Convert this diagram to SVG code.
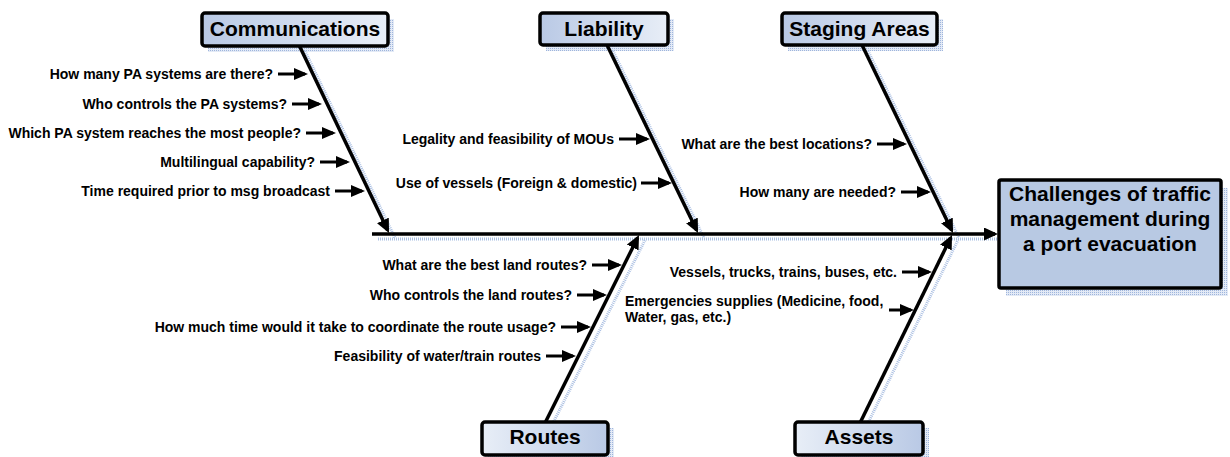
<svg xmlns="http://www.w3.org/2000/svg" width="1230" height="457" viewBox="0 0 1230 457">
<style>
.t{font-family:"Liberation Sans",Arial,sans-serif;font-weight:bold;font-size:14px;fill:#000}
.h{font-family:"Liberation Sans",Arial,sans-serif;font-weight:bold;font-size:21px;fill:#000;text-anchor:middle}
.e{text-anchor:end}
.bone{stroke:#000;stroke-width:3.5;fill:none;marker-end:url(#big)}
.sub{stroke:#000;stroke-width:3;fill:none;marker-end:url(#ah)}
.sh{stroke:#aabfe2;stroke-width:3;fill:none;stroke-dasharray:1 1}
.box{stroke:#000;stroke-width:3.5}
.shb{fill:url(#dots)}
</style>
<defs>
<pattern id="dots" width="2" height="2" patternUnits="userSpaceOnUse">
<rect width="2" height="2" fill="#e3eaf6"/>
<rect width="1" height="1" fill="#9fb5dc"/>
</pattern>
<linearGradient id="gTop" x1="0" y1="0" x2="1" y2="0">
<stop offset="0" stop-color="#b9c9e5"/>
<stop offset="1" stop-color="#e8eef7"/>
</linearGradient>
<linearGradient id="gBot" x1="0" y1="0" x2="1" y2="0">
<stop offset="0" stop-color="#e8eef7"/>
<stop offset="1" stop-color="#b9c9e5"/>
</linearGradient>
<marker id="ah" markerUnits="userSpaceOnUse" markerWidth="14" markerHeight="12" viewBox="0 0 14 12" refX="11" refY="6" orient="auto">
<path d="M0,0 L14,6 L0,12 Z" fill="#000"/>
</marker>
<marker id="big" markerUnits="userSpaceOnUse" markerWidth="14" markerHeight="13" viewBox="0 0 14 13" refX="11" refY="6.5" orient="auto">
<path d="M0,0 L14,6.5 L0,13 Z" fill="#000"/>
</marker>
</defs>
<g id="shadows">
<rect class="shb" x="208" y="19" width="186" height="33"/>
<rect class="shb" x="546" y="19" width="128" height="32"/>
<rect class="shb" x="788" y="19" width="155" height="32"/>
<rect class="shb" x="488" y="428" width="126" height="33"/>
<rect class="shb" x="801" y="428" width="128" height="33"/>
<rect class="shb" x="1006" y="188" width="222" height="108"/>
<g transform="translate(6,5)">
<line class="sh" x1="372" y1="234" x2="998" y2="234"/>
<line class="sh" x1="299" y1="46" x2="389" y2="233"/>
<line class="sh" x1="607" y1="46" x2="698" y2="233"/>
<line class="sh" x1="862" y1="46" x2="953" y2="233"/>
<line class="sh" x1="545" y1="422" x2="639" y2="235"/>
<line class="sh" x1="860" y1="422" x2="952" y2="235"/>
</g>
</g>
<g id="connectors">
<line class="bone" x1="372" y1="234" x2="995" y2="234"/>
<line class="bone" x1="299" y1="45" x2="387.7" y2="230.3"/>
<line class="bone" x1="607" y1="45" x2="696.7" y2="230.3"/>
<line class="bone" x1="862" y1="45" x2="951.7" y2="230.3"/>
<line class="bone" x1="545" y1="423" x2="637.65" y2="237.7"/>
<line class="bone" x1="860" y1="423" x2="950.7" y2="237.7"/>
<line class="sub" x1="278" y1="74" x2="305" y2="74"/>
<line class="sub" x1="292" y1="104" x2="319" y2="104"/>
<line class="sub" x1="306" y1="133" x2="333" y2="133"/>
<line class="sub" x1="320" y1="162" x2="347" y2="162"/>
<line class="sub" x1="335" y1="191" x2="362" y2="191"/>
<line class="sub" x1="619" y1="139" x2="647" y2="139"/>
<line class="sub" x1="641" y1="183" x2="669" y2="183"/>
<line class="sub" x1="877" y1="144" x2="904" y2="144"/>
<line class="sub" x1="901" y1="192" x2="928" y2="192"/>
<line class="sub" x1="592" y1="265" x2="619" y2="265"/>
<line class="sub" x1="577" y1="295" x2="604" y2="295"/>
<line class="sub" x1="561" y1="327" x2="588" y2="327"/>
<line class="sub" x1="546" y1="356" x2="573" y2="356"/>
<line class="sub" x1="902" y1="272" x2="929" y2="272"/>
<line class="sub" x1="889" y1="310" x2="911" y2="310"/>
</g>
<g id="effect">
<rect class="box" x="999" y="180" width="222" height="108" rx="2" fill="#b8c9e3"/>
<text class="h" x="1110" y="201">Challenges of traffic</text>
<text class="h" x="1110" y="226">management during</text>
<text class="h" x="1110" y="251">a port evacuation</text>
</g>
<g id="communications">
<rect class="box" x="202" y="13" width="186" height="33" rx="3" fill="url(#gTop)"/>
<text class="h" x="295" y="36">Communications</text>
<text class="t e" x="273" y="79">How many PA systems are there?</text>
<text class="t e" x="287" y="109">Who controls the PA systems?</text>
<text class="t e" x="301" y="138">Which PA system reaches the most people?</text>
<text class="t e" x="315" y="167">Multilingual capability?</text>
<text class="t e" x="330" y="196">Time required prior to msg broadcast</text>
</g>
<g id="liability">
<rect class="box" x="540" y="13" width="128" height="32" rx="3" fill="url(#gTop)"/>
<text class="h" x="604" y="36">Liability</text>
<text class="t e" x="614" y="144">Legality and feasibility of MOUs</text>
<text class="t e" x="637" y="188">Use of vessels (Foreign &amp; domestic)</text>
</g>
<g id="staging-areas">
<rect class="box" x="782" y="13" width="155" height="32" rx="3" fill="url(#gTop)"/>
<text class="h" x="859.5" y="36">Staging Areas</text>
<text class="t e" x="872" y="149">What are the best locations?</text>
<text class="t e" x="896" y="197">How many are needed?</text>
</g>
<g id="routes">
<rect class="box" x="482" y="422" width="126" height="33" rx="3" fill="url(#gBot)"/>
<text class="h" x="545" y="444">Routes</text>
<text class="t e" x="587" y="270">What are the best land routes?</text>
<text class="t e" x="572" y="300">Who controls the land routes?</text>
<text class="t e" x="556" y="332">How much time would it take to coordinate the route usage?</text>
<text class="t e" x="541" y="361">Feasibility of water/train routes</text>
</g>
<g id="assets">
<rect class="box" x="795" y="422" width="128" height="33" rx="3" fill="url(#gBot)"/>
<text class="h" x="859" y="444">Assets</text>
<text class="t e" x="897" y="277">Vessels, trucks, trains, buses, etc.</text>
<text class="t" x="625" y="306">Emergencies supplies (Medicine, food,</text>
<text class="t" x="625" y="322">Water, gas, etc.)</text>
</g>
</svg>
